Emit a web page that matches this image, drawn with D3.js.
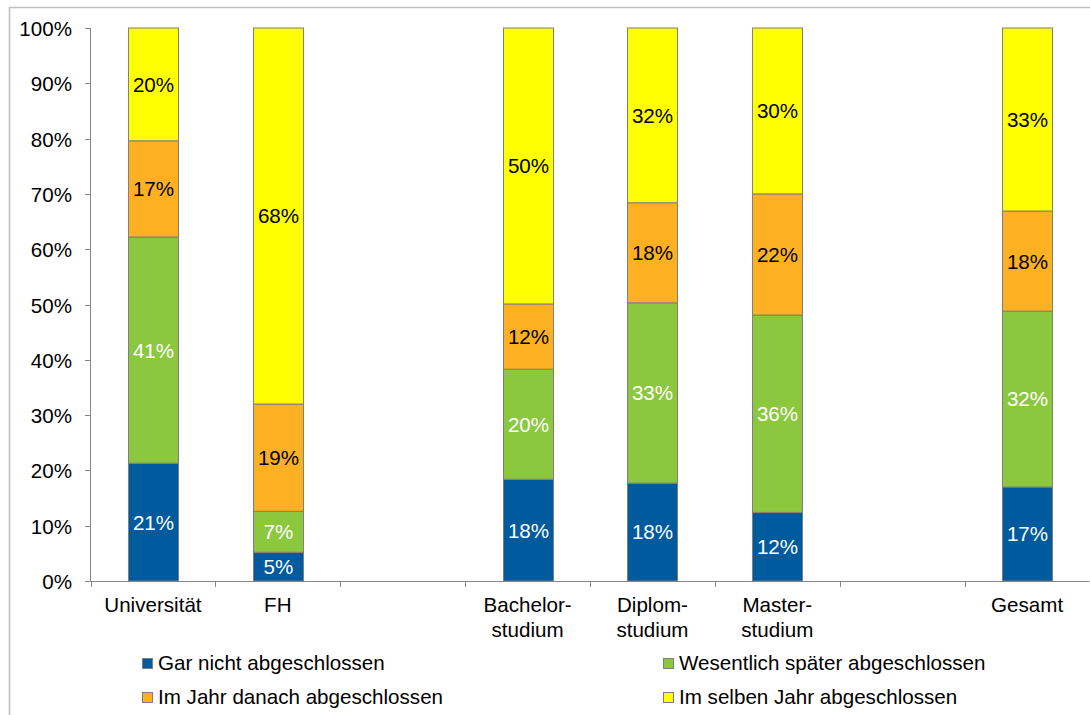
<!DOCTYPE html>
<html>
<head>
<meta charset="utf-8">
<script src="https://cdn.jsdelivr.net/npm/d3@7"></script>
<style>
  html, body { margin: 0; padding: 0; background: #fff; }
  svg { display: block; }
  text { font-family: "Liberation Sans", Arial, sans-serif; }
</style>
</head>
<body>
<svg id="chart" width="1090" height="715"></svg>
<script>
// Categories (empty slots are gaps in the original chart)
const categories = [["Universität"], ["FH"], [""], ["Bachelor-", "studium"], ["Diplom-", "studium"], ["Master-", "studium"], [""], ["Gesamt"]];
const seriesNames = ["Gar nicht abgeschlossen", "Wesentlich später abgeschlossen", "Im Jahr danach abgeschlossen", "Im selben Jahr abgeschlossen"];
// Values in percent (null = empty slot)
const garNicht    = [21.3, 5.2, null, 18.4, 17.7, 12.4, null, 17.0];
const wesentlich  = [40.9, 7.4, null, 19.9, 32.6, 35.7, null, 31.8];
const jahrDanach  = [17.4, 19.4, null, 11.8, 18.1, 21.9, null, 18.1];
const selbenJahr  = [20.4, 68.0, null, 49.9, 31.6, 30.0, null, 33.1];
const yTicks = [0, 10, 20, 30, 40, 50, 60, 70, 80, 90, 100];

const colors = ["#005A9E", "#8CC83E", "#FDB021", "#FFFF00"];
const labelColors = ["#ffffff", "#ffffff", "#000000", "#000000"];
const FS = 20.6;

const svg = d3.select("#chart");

// outer frame
svg.append("rect").attr("x", 9.5).attr("y", 7.5).attr("width", 1200).attr("height", 800)
  .attr("fill", "none").attr("stroke", "#bfbfbf").attr("stroke-width", 1.5);

const keys = categories.map((c, i) => "c" + i);
const x = d3.scaleBand().domain(keys).range([90.5, 1089.5]).paddingInner(0.6).paddingOuter(0.3);
const y = d3.scaleLinear().domain([0, 100]).range([581, 28]);

// y axis
svg.append("line").attr("x1", 90.5).attr("x2", 90.5).attr("y1", y(100)).attr("y2", y(0))
  .attr("stroke", "#868686");
const yt = svg.append("g");
yTicks.forEach(t => {
  const yy = Math.round(y(t)) + 0.5;
  yt.append("line").attr("x1", 85).attr("x2", 90.5).attr("y1", yy).attr("y2", yy).attr("stroke", "#868686");
  yt.append("text").attr("x", 72).attr("y", yy).attr("dy", "0.36em").attr("text-anchor", "end")
    .attr("font-size", FS).attr("fill", "#000").text(t + "%");
});

// x axis
const x0 = x.range()[0];
svg.append("line").attr("x1", 90.5).attr("x2", 1089.5).attr("y1", 581.5).attr("y2", 581.5).attr("stroke", "#868686");
for (let i = 0; i <= categories.length; i++) {
  const xx = Math.round(x0 + i * x.step()) + 0.5;
  svg.append("line").attr("x1", xx).attr("x2", xx).attr("y1", 581.5).attr("y2", 587).attr("stroke", "#868686");
}
categories.forEach((lines, i) => {
  const cx = x(keys[i]) + x.bandwidth() / 2;
  lines.forEach((ln, j) => {
    svg.append("text").attr("x", cx).attr("y", 612 + j * 25).attr("text-anchor", "middle")
      .attr("font-size", FS).attr("fill", "#000").text(ln);
  });
});

// stacked bars
const rows = keys.map((k, i) => ({ key: k, s0: garNicht[i], s1: wesentlich[i], s2: jahrDanach[i], s3: selbenJahr[i] }))
  .filter(r => r.s0 !== null);
const stack = d3.stack().keys(["s0", "s1", "s2", "s3"]);
const stacked = stack(rows);

stacked.forEach((layer, si) => {
  const g = svg.append("g");
  layer.forEach(d => {
    const bx = Math.round(x(d.data.key)) + 0.5;
    const top = y(d[1]), bot = y(d[0]);
    g.append("rect").attr("x", bx).attr("y", top).attr("width", 50).attr("height", bot - top)
      .attr("fill", colors[si]).attr("stroke", "#7f7f7f").attr("stroke-width", 1);
    g.append("text").attr("x", bx + 25).attr("y", (top + bot) / 2).attr("dy", "0.36em")
      .attr("text-anchor", "middle").attr("font-size", FS).attr("fill", labelColors[si])
      .text(Math.round(d[1] - d[0]) + "%");
  });
});

// legend
const legendPos = [[142, 658], [663, 658], [142, 692], [663, 692]];
seriesNames.forEach((name, i) => {
  const [lx, ly] = legendPos[i];
  svg.append("rect").attr("x", lx + 0.5).attr("y", ly + 0.5).attr("width", 10).attr("height", 10)
    .attr("fill", colors[i]).attr("stroke", "#7f7f7f");
  svg.append("text").attr("x", lx + 16).attr("y", ly + 11.5).attr("font-size", FS).attr("fill", "#000").text(name);
});
</script>
</body>
</html>
